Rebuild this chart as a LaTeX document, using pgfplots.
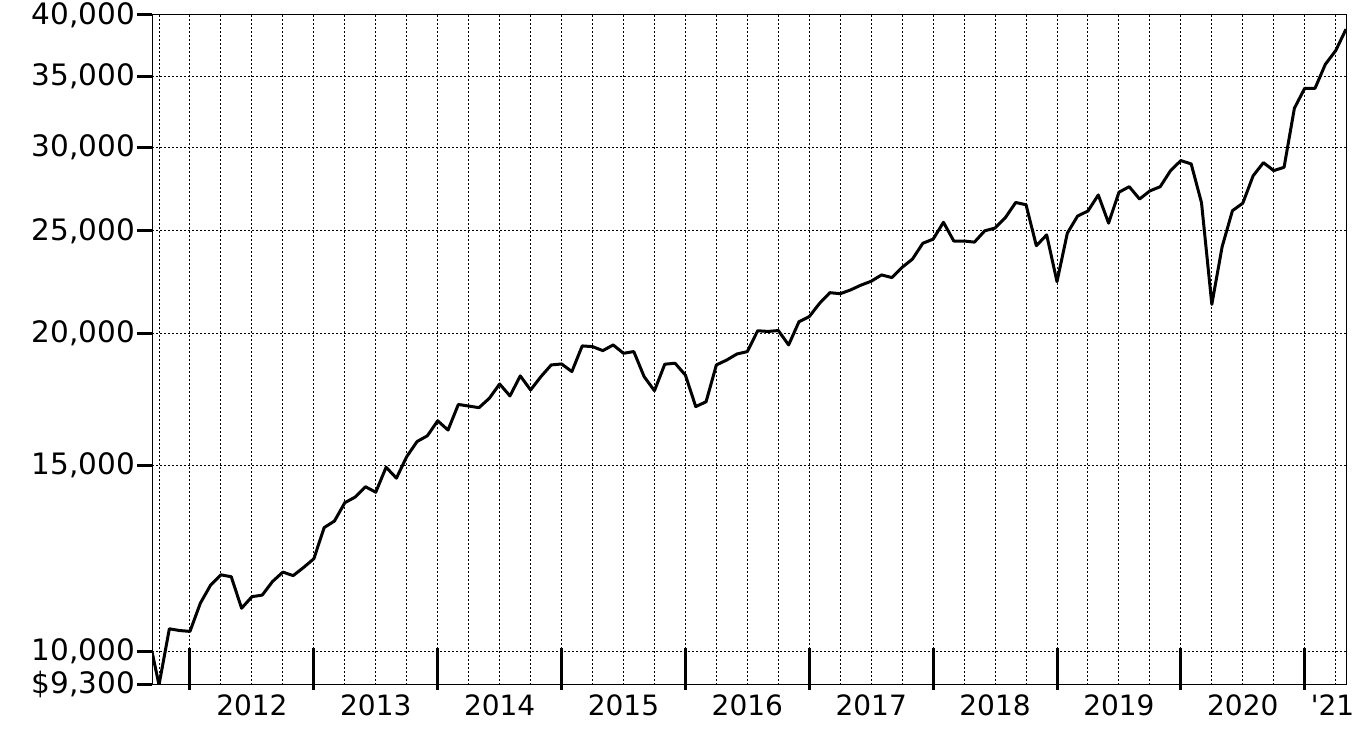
\documentclass[border=0pt]{standalone}
\usepackage{fontspec}
\setmainfont{DejaVu Sans}
\usepackage{pgfplots}
\pgfplotsset{compat=1.18}
\begin{document}
\begin{tikzpicture}
\path[use as bounding box] (0,0) rectangle (1363pt,740pt);
\begin{axis}[
  at={(152pt,55pt)}, anchor=south west,
  scale only axis, width=1194pt, height=670pt,
  xmin=-3.68, xmax=112,
  ymode=log, ymin=9300, ymax=40000,
  axis line style={line width=1pt, black},
  tick label style={font=\fontsize{28}{32}\selectfont, black},
  yticklabel style={font=\fontsize{29.5}{33}\selectfont, xshift=-9pt},
  xticklabel style={yshift=-6pt},
  xtick={0,12,24,36,48,60,72,84,96,108},
  xticklabels={},
  xtick align=inside,
  x tick style={line width=3pt, black, yshift=-5pt, /pgfplots/major tick length=42pt},
  extra x ticks={6,18,30,42,54,66,78,90,102,110.7},
  extra x tick labels={2012,2013,2014,2015,2016,2017,2018,2019,2020,\textquotesingle21},
  extra x tick style={grid=none, /pgfplots/major tick length=0pt, tick style={draw=none}},
  minor xtick={-3,0,3,6,9,12,15,18,21,24,27,30,33,36,39,42,45,48,51,54,57,60,63,66,69,72,75,78,81,84,87,90,93,96,99,102,105,108,111},
  minor tick length=0pt,
  xminorgrids=true, xmajorgrids=false,
  minor x grid style={black, line width=1pt, dash pattern=on 2pt off 2pt},
  ytick={9300,10000,15000,20000,25000,30000,35000,40000},
  yticklabels={{\$9,300},{10,000},{15,000},{20,000},{25,000},{30,000},{35,000},{40,000}},
  ytick align=outside,
  y tick style={line width=3pt, black, /pgfplots/major tick length=15pt},
  ymajorgrids=true,
  major y grid style={black, line width=1pt, dash pattern=on 2pt off 2pt},
  tick pos=left,
]
\addplot[black, line width=3pt, line join=round, mark=none] coordinates {
(-3.68,10000) (-3,9300) (-2,10510) (-1,10470) (0,10450)
(1,11110) (2,11560) (3,11820) (4,11770) (5,10990) (6,11270)
(7,11310) (8,11650) (9,11890) (10,11800) (11,12010) (12,12240)
(13,13100) (14,13290) (15,13830) (16,14000) (17,14320) (18,14150)
(19,14940) (20,14590) (21,15290) (22,15800) (23,16000) (24,16530)
(25,16200) (26,17130) (27,17070) (28,17010) (29,17360) (30,17910)
(31,17450) (32,18230) (33,17680) (34,18200) (35,18670) (36,18710)
(37,18400) (38,19460) (39,19430) (40,19260) (41,19500) (42,19150)
(43,19220) (44,18200) (45,17650) (46,18700) (47,18740) (48,18260)
(49,17050) (50,17230) (51,18670) (52,18870) (53,19120) (54,19220)
(55,20110) (56,20080) (57,20120) (58,19500) (59,20510) (60,20740)
(61,21350) (62,21850) (63,21800) (64,21980) (65,22210) (66,22400)
(67,22710) (68,22580) (69,23090) (70,23510) (71,24330) (72,24550)
(73,25470) (74,24450) (75,24450) (76,24390) (77,25000) (78,25150)
(79,25730) (80,26590) (81,26460) (82,24200) (83,24780) (84,22380)
(85,24870) (86,25820) (87,26100) (88,27030) (89,25420) (90,27190)
(91,27520) (92,26790) (93,27270) (94,27520) (95,28500) (96,29130)
(97,28920) (98,26580) (99,21300) (100,24150) (101,26120) (102,26550)
(103,28180) (104,29000) (105,28500) (106,28710) (107,32650) (108,34100)
(109,34100) (110,35930) (111,37010) (112,38780)
};
\end{axis}
\end{tikzpicture}
\end{document}
